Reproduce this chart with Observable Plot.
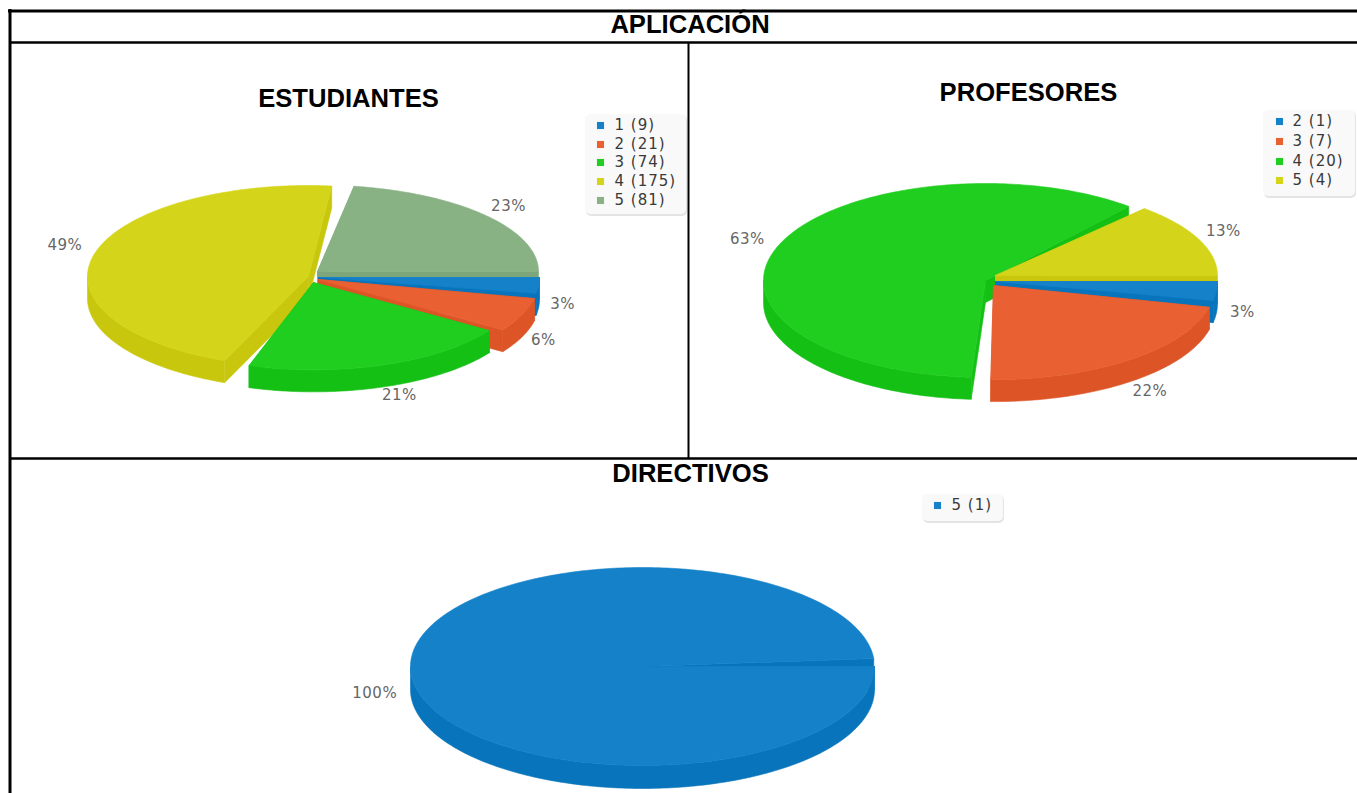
<!DOCTYPE html>
<html lang="es">
<head>
<meta charset="utf-8">
<title>Aplicación</title>
<script src="https://cdn.jsdelivr.net/npm/d3@7"></script>
<script src="https://cdn.jsdelivr.net/npm/@observablehq/plot@0.6"></script>
<style>
html,body{margin:0;padding:0;background:#fff;overflow:hidden}
svg{display:block}
g[fill="#3a3a3a"] text{letter-spacing:1px}
g[fill="#666"] text{letter-spacing:.5px}
</style>
</head>
<body>
<div id="chart"></div>
<script>
// ---- data ----
const estudiantesCategories = ["1", "2", "3", "4", "5"];
const estudiantesCounts = [9, 21, 74, 175, 81];
const estudiantesPct = ["3%", "6%", "21%", "49%", "23%"];

const profesoresCategories = ["2", "3", "4", "5"];
const profesoresCounts = [1, 7, 20, 4];
const profesoresPct = ["3%", "22%", "63%", "13%"];

const directivosCategories = ["5"];
const directivosCounts = [1];
const directivosPct = ["100%"];

const headerTitle = "APLICACIÓN";
const panelTitles = ["ESTUDIANTES", "PROFESORES", "DIRECTIVOS"];

// ---- styling ----
const topColors = ["#1481c9", "#e96033", "#20ce20", "#d4d51a", "#88b284"];
const sideColors = ["#0874bb", "#dd5527", "#15c015", "#c8c70e", "#7ea67b"];

// ---- layout of each pie (separate from the data) ----
const pies = [
  {
    categories: estudiantesCategories, counts: estudiantesCounts, pct: estudiantesPct,
    rx: 221, ry: 91, depth: 22, warpFront: 7, warpBack: 3, sweep: 360,
    apex: [[318, 277], [318, 279], [313, 282], [308, 276], [317, 271]],
    scale: [[1, 1], [1, 1], [0.955, 0.96], [1, 1], [1, 0.95]],
    trim: [[0, 0], [2, 0], [0, -3], [1.5, 0], [3.5, 0]],
    paint: [4, 3, 0, 1, 2],
    labelNudge: [[0, 6], [-1, 7], [8, 0], [-6, -15], [4, -8]],
    legend: {x: 585, y: 114, w: 101, h: 100, sx: 600, tx: 614, rows: [125, 144, 162, 181, 200]}
  },
  {
    categories: profesoresCategories, counts: profesoresCounts, pct: profesoresPct,
    rx: 222, ry: 97, depth: 22, warpFront: 0.7, warpBack: 4, sweep: 360,
    apex: [[995, 281], [993, 285], [985, 280], [995, 275]],
    scale: [[1, 1], [1, 0.97], [1, 1], [1, 0.93]],
    trim: [[0, 0], [2, 0], [3, -2], [0, 0]],
    paint: [2, 3, 0, 1],
    labelNudge: [[2, 8], [5, 5], [-10, -9], [3, -11]],
    legend: {x: 1263, y: 110, w: 92, h: 86, sx: 1279, tx: 1292, rows: [121, 141, 161, 180]}
  },
  {
    categories: directivosCategories, counts: directivosCounts, pct: directivosPct,
    rx: 232, ry: 99, depth: 23, warpFront: 0, warpBack: 0, sweep: 355.4,
    apex: [[642, 666]],
    scale: [[1, 1]],
    trim: [[0, 0]],
    paint: [0],
    labelNudge: [[-12, 10]],
    legend: {x: 922, y: 494, w: 81, h: 27, sx: 937, tx: 951, rows: [505]}
  }
];

const rad = Math.PI / 180;
const marks = [];
const pctLabels = [];
const legendLabels = [];
const legendBoxes = [];
const legendShadows = [];
const legendDots = [];

for (const p of pies) {
  const warp = (deg) => {
    const s = Math.sin(deg * rad);
    return deg + (s > 0 ? p.warpFront : p.warpBack) * s;
  };
  const arcs = d3.pie().sort(null).startAngle(0).endAngle(p.sweep * rad)(p.counts);
  const slices = arcs.map((a, i) => ({
    i,
    a0: warp(a.startAngle / rad) + p.trim[i][0],
    a1: warp(a.endAngle / rad) + p.trim[i][1],
    ax: p.apex[i][0],
    ay: p.apex[i][1],
    rx: p.rx * p.scale[i][0],
    ry: p.ry * p.scale[i][1]
  }));
  const pt = (s, deg, d = 0) => ({
    x: s.ax + s.rx * Math.cos(deg * rad),
    y: s.ay + s.ry * Math.sin(deg * rad) + d
  });
  const range = (from, to) => {
    const out = d3.range(from, to, 1);
    out.push(to);
    return out;
  };
  // paint from the back of the pie to the front
  for (const idx of p.paint) {
    const s = slices[idx];
    const top = topColors[s.i], side = sideColors[s.i];
    const centre = {x: s.ax, y: s.ay};
    const below = {x: s.ax, y: s.ay + p.depth};
    const poly = (pts, c) => marks.push(Plot.line(pts, {x: "x", y: "y", fill: c, stroke: c, strokeWidth: 0.6}));
    // two cut faces
    for (const e of [s.a0, s.a1]) {
      poly([centre, pt(s, e), pt(s, e, p.depth), below, centre], side);
    }
    // outer rim, only on the front half
    const f0 = Math.max(s.a0, 0), f1 = Math.min(s.a1, 180);
    if (f1 > f0) {
      const arc = range(f0, f1);
      poly([...arc.map((d) => pt(s, d)), ...arc.slice().reverse().map((d) => pt(s, d, p.depth))], side);
    }
    // top face
    poly([centre, ...range(s.a0, s.a1).map((d) => pt(s, d)), centre], top);
    // percentage label
    const mid = ((s.a0 + s.a1) / 2) * rad;
    pctLabels.push({
      x: s.ax + (s.rx + 24) * Math.cos(mid) + p.labelNudge[s.i][0],
      y: s.ay + p.depth / 2 + (s.ry + 20) * Math.sin(mid) + p.labelNudge[s.i][1],
      t: p.pct[s.i]
    });
  }
  // legend
  const L = p.legend;
  legendShadows.push({x1: L.x + 1, x2: L.x + L.w + 1, y1: L.y + 1, y2: L.y + L.h + 2});
  legendBoxes.push({x1: L.x, x2: L.x + L.w, y1: L.y, y2: L.y + L.h});
  p.categories.forEach((c, i) => {
    legendDots.push({x: L.sx, y: L.rows[i], fill: topColors[i]});
    legendLabels.push({x: L.tx, y: L.rows[i], t: `${c} (${p.counts[i]})`});
  });
}

const borders = [
  {x1: 8, x2: 1357, y: 10.5, w: 3},
  {x1: 9.5, x2: 1357, y: 42, w: 2.5},
  {x1: 9.5, x2: 1357, y: 458, w: 2.5}
];
const vBorders = [
  {x: 9.5, y1: 9, y2: 793, w: 3},
  {x: 688, y1: 42, y2: 458, w: 2}
];
const titles = [
  {x: 689.5, y: 24, t: headerTitle},
  {x: 348, y: 98, t: panelTitles[0]},
  {x: 1028, y: 92, t: panelTitles[1]},
  {x: 690, y: 473, t: panelTitles[2]}
];

const chart = Plot.plot({
  width: 1357,
  height: 793,
  margin: 0,
  x: {domain: [0, 1357], range: [0, 1357], axis: null},
  y: {domain: [0, 793], range: [0, 793], axis: null},
  style: {background: "#fff"},
  marks: [
    ...marks,
    Plot.rect(legendShadows, {x1: "x1", x2: "x2", y1: "y1", y2: "y2", fill: "#e4e4e4", rx: 5}),
    Plot.rect(legendBoxes, {x1: "x1", x2: "x2", y1: "y1", y2: "y2", fill: "#f9f9f9", rx: 5}),
    Plot.dot(legendDots, {x: "x", y: "y", fill: "fill", symbol: "square", r: 4}),
    Plot.text(legendLabels, {x: "x", y: "y", text: "t", textAnchor: "start", fontFamily: "DejaVu Sans", fontSize: 15, fill: "#3a3a3a"}),
    Plot.text(pctLabels, {x: "x", y: "y", text: "t", fontFamily: "DejaVu Sans", fontSize: 15, fill: "#666"}),
    Plot.text(titles, {x: "x", y: "y", text: "t", fontFamily: "Liberation Sans", fontWeight: "bold", fontSize: 25.6, fill: "#000"}),
    ...borders.map((b) => Plot.ruleY([b], {x1: "x1", x2: "x2", y: "y", stroke: "#000", strokeWidth: b.w})),
    ...vBorders.map((b) => Plot.ruleX([b], {x: "x", y1: "y1", y2: "y2", stroke: "#000", strokeWidth: b.w}))
  ]
});
document.getElementById("chart").append(chart);
</script>
</body>
</html>
